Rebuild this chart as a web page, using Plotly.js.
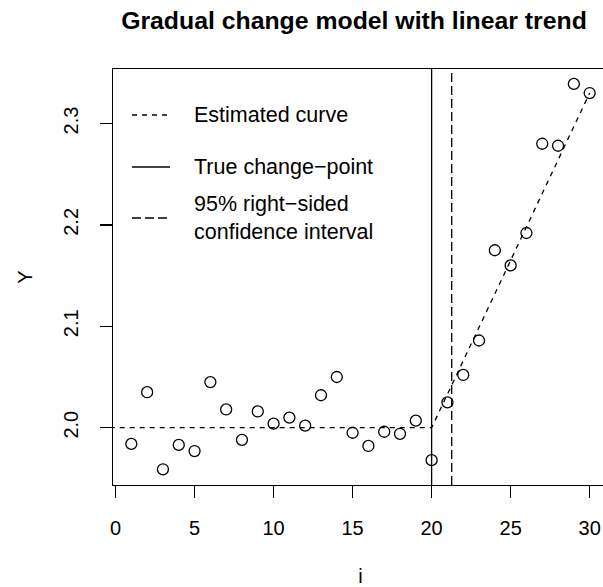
<!DOCTYPE html>
<html>
<head>
<meta charset="utf-8">
<script src="https://cdn.plot.ly/plotly-3.0.1.min.js"></script>
<style>
  html, body { margin: 0; padding: 0; background: #fff; overflow: hidden; }
  #chart { width: 611px; height: 587px; }
</style>
</head>
<body>
<div id="chart"></div>
<script>
// Observations of the series
const idx = [1, 2, 3, 4, 5, 6, 7, 8, 9, 10, 11, 12, 13, 14, 15,
             16, 17, 18, 19, 20, 21, 22, 23, 24, 25, 26, 27, 28, 29, 30];
const obsY = [1.984, 2.035, 1.959, 1.983, 1.977, 2.045, 2.018, 1.988, 2.016, 2.004,
              2.010, 2.002, 2.032, 2.050, 1.995, 1.982, 1.996, 1.994, 2.007, 1.968,
              2.025, 2.052, 2.086, 2.175, 2.160, 2.192, 2.280, 2.278, 2.339, 2.330];

// Fitted gradual-change curve: flat level, then linear trend after the knot
const curveX = [-1, 20, 30];
const curveY = [2.0, 2.0, 2.33];

// Change-point and the bound of its one-sided confidence interval
const trueChangePoint = 20;
const ciBound = 21.27;

// Axis ticks
const xTicks = [0, 5, 10, 15, 20, 25, 30];
const yTicks = [2.0, 2.1, 2.2, 2.3];
const yTickText = ["2.0", "2.1", "2.2", "2.3"];

// Legend entries
const legendLabels = ["Estimated curve", "True change\u2212point",
                      "95% right\u2212sided", "confidence interval"];

const FONT = "Liberation Sans, Arial, Helvetica, sans-serif";
const LW = 1.3;
const DASH_EST = "5px,5px";
const DASH_CI = "9px,4px";

const traces = [
  {
    x: curveX, y: curveY, type: "scatter", mode: "lines",
    line: { color: "#000", width: LW, dash: DASH_EST },
    hoverinfo: "skip", showlegend: false
  },
  {
    x: idx, y: obsY, type: "scatter", mode: "markers",
    marker: { symbol: "circle-open", size: 11, color: "#000", line: { width: LW, color: "#000" } },
    showlegend: false
  }
];

// Legend geometry (paper units)
const legX0 = 0.0384, legX1 = 0.1152, legTextX = 0.1596;
const legRows = [0.8894, 0.7644, 0.6418];

const shapes = [
  { type: "line", xref: "x", yref: "paper", x0: trueChangePoint, x1: trueChangePoint, y0: 0, y1: 1,
    line: { color: "#000", width: LW } },
  { type: "line", xref: "x", yref: "paper", x0: ciBound, x1: ciBound, y0: 0, y1: 1,
    line: { color: "#000", width: LW, dash: DASH_CI } },
  // legend samples
  { type: "line", xref: "paper", yref: "paper", x0: legX0, x1: legX1, y0: legRows[0], y1: legRows[0],
    line: { color: "#000", width: LW, dash: DASH_EST } },
  { type: "line", xref: "paper", yref: "paper", x0: legX0, x1: legX1, y0: legRows[1], y1: legRows[1],
    line: { color: "#000", width: LW } },
  { type: "line", xref: "paper", yref: "paper", x0: legX0, x1: legX1, y0: legRows[2], y1: legRows[2],
    line: { color: "#000", width: LW, dash: DASH_CI } }
];

const legFont = { family: FONT, size: 21.5, color: "#000" };
const annotations = [
  { text: legendLabels[0], xref: "paper", yref: "paper", x: legTextX, y: legRows[0],
    xanchor: "left", yanchor: "middle", showarrow: false, font: legFont },
  { text: legendLabels[1], xref: "paper", yref: "paper", x: legTextX, y: legRows[1],
    xanchor: "left", yanchor: "middle", showarrow: false, font: legFont },
  { text: legendLabels[2], xref: "paper", yref: "paper", x: legTextX, y: legRows[2] + 0.0337,
    xanchor: "left", yanchor: "middle", showarrow: false, font: legFont },
  { text: legendLabels[3], xref: "paper", yref: "paper", x: legTextX, y: legRows[2] - 0.0337,
    xanchor: "left", yanchor: "middle", showarrow: false, font: legFont }
];

const axisCommon = {
  showgrid: false, zeroline: false,
  showline: true, mirror: true, linecolor: "#000", linewidth: LW,
  ticks: "outside", ticklen: 12, tickwidth: LW, tickcolor: "#000",
  tickfont: { family: FONT, size: 20, color: "#000" }
};

const layout = {
  width: 611, height: 587,
  margin: { l: 113, r: 3, t: 69, b: 102 },
  paper_bgcolor: "#fff", plot_bgcolor: "#fff",
  font: { family: FONT, color: "#000" },
  title: {
    text: "<b>Gradual change model with linear trend</b>",
    font: { family: FONT, size: 24.8, color: "#000" },
    xref: "container", x: 354 / 611, xanchor: "center",
    yref: "container", y: 1 - 20 / 587, yanchor: "middle"
  },
  xaxis: Object.assign({}, axisCommon, {
    range: [-0.16, 31.16], tickvals: xTicks, ticklabelstandoff: 13,
    title: { text: "i", font: { family: FONT, size: 20, color: "#000" }, standoff: 31 }
  }),
  yaxis: Object.assign({}, axisCommon, {
    range: [1.9435, 2.3537], tickvals: yTicks, ticktext: yTickText, tickangle: -90,
    ticklabelstandoff: 14,
    title: { text: "Y", font: { family: FONT, size: 20, color: "#000" }, standoff: 21 }
  }),
  shapes: shapes,
  annotations: annotations,
  showlegend: false
};

Plotly.newPlot("chart", traces, layout, { displayModeBar: false, staticPlot: true });
</script>
</body>
</html>
